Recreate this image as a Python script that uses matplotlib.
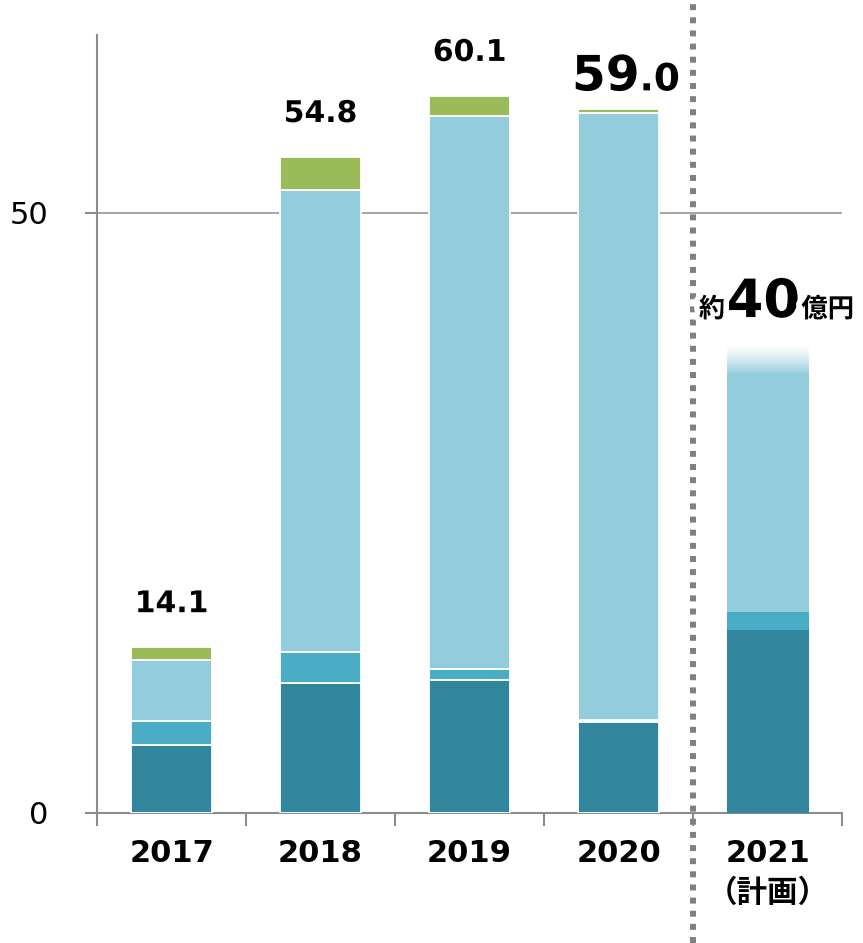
import numpy as np
import matplotlib
matplotlib.use("Agg")
import matplotlib.pyplot as plt
import matplotlib.patheffects as pe
import matplotlib.transforms as mtransforms
from matplotlib.offsetbox import TextArea, HPacker, AnnotationBbox

plt.rcParams["font.family"] = ["DejaVu Sans", "Noto Sans CJK JP"]

# data
years = ["2017", "2018", "2019", "2020", "2021\n（計画）"]
dark = [5.67, 10.83, 11.08, 7.58, 15.25]
medium = [2.0, 2.58, 0.92, 0.17, 1.5]
light = [5.08, 38.5, 46.08, 50.58, 22.25]
green = [1.08, 2.75, 1.67, 0.33, 0.0]
totals = ["14.1", "54.8", "60.1", "59.0"]
plan_label = ["約", "40", "億円"]
fade_len = 2.5  # faded top of plan bar

c_dark = "#31859C"
c_med = "#4BACC6"
c_light = "#93CDDD"
c_green = "#9BBB59"

fig = plt.figure(figsize=(8.63, 9.43), dpi=100)
ax = fig.add_axes([0.1124, 0.1379, 0.8633, 0.825])

x = np.arange(len(years))
w = 0.55
n = len(totals)

# actual years
b1 = np.array(dark[:n])
b2 = b1 + np.array(medium[:n])
b3 = b2 + np.array(light[:n])
ax.bar(x[:n], dark[:n], w, color=c_dark, edgecolor="white", linewidth=1.3, zorder=3)
ax.bar(x[:n], medium[:n], w, bottom=b1, color=c_med, edgecolor="white", linewidth=1.3, zorder=3)
ax.bar(x[:n], light[:n], w, bottom=b2, color=c_light, edgecolor="white", linewidth=1.3, zorder=3)
ax.bar(x[:n], green[:n], w, bottom=b3, color=c_green, edgecolor="white", linewidth=1.3, zorder=3)
tops = b3 + np.array(green[:n])

# plan year (gradient-ish)
i = n
ax.bar(x[i], dark[i], w, color=c_dark, linewidth=0, zorder=3)
ax.bar(x[i], medium[i], w, bottom=dark[i], color=c_med, linewidth=0, zorder=3)
base = dark[i] + medium[i]
ax.bar(x[i], light[i] - fade_len, w, bottom=base, color=c_light, linewidth=0, zorder=3)
fade_bot = base + light[i] - fade_len
plan_top = base + light[i]
rgba = np.zeros((50, 1, 4))
rgba[:, 0, :3] = matplotlib.colors.to_rgb(c_light)
rgba[:, 0, 3] = np.linspace(1, 0, 50) ** 1.3
ax.imshow(rgba, extent=[x[i] - w / 2, x[i] + w / 2, fade_bot, plan_top],
          origin="lower", aspect="auto", zorder=3, interpolation="bilinear")

ax.set_xlim(-0.5, len(years) - 0.5)
ax.set_ylim(0, 64.8)

glow = [pe.withStroke(linewidth=8, foreground="white")]

# totals
for k in range(n):
    if k == n - 1:
        big = TextArea(totals[k][:2], textprops=dict(fontsize=35, fontweight="bold", path_effects=glow))
        small = TextArea(totals[k][2:], textprops=dict(fontsize=27, fontweight="bold", path_effects=glow))
        box = HPacker(children=[big, small], align="baseline", pad=0, sep=0)
        ab = AnnotationBbox(box, (x[k] + 0.05, tops[k]), xybox=(0, 6), boxcoords="offset points",
                            box_alignment=(0.5, 0), frameon=False, zorder=6)
        ax.add_artist(ab)
    else:
        ax.annotate(totals[k], (x[k], tops[k]), xytext=(0, 25), textcoords="offset points",
                    ha="center", va="baseline", fontsize=21.5, fontweight="bold",
                    path_effects=glow, zorder=6)

t1 = TextArea(plan_label[0], textprops=dict(fontsize=19, fontweight="bold", path_effects=glow))
t2 = TextArea(plan_label[1], textprops=dict(fontsize=38, fontweight="bold", path_effects=glow))
t3 = TextArea(plan_label[2], textprops=dict(fontsize=19, fontweight="bold", path_effects=glow))
box = HPacker(children=[t1, t2, t3], align="baseline", pad=0, sep=1)
ab = AnnotationBbox(box, (x[i] + 0.06, plan_top), xybox=(0, 12), boxcoords="offset points",
                    box_alignment=(0.5, 0), frameon=False, zorder=6)
ax.add_artist(ab)

# axes styling
for s in ["top", "right"]:
    ax.spines[s].set_visible(False)
for s in ["left", "bottom"]:
    ax.spines[s].set_color("#8c8c8c")
    ax.spines[s].set_linewidth(1.5)

ax.set_yticks([0, 50])
ax.set_yticklabels(["0", "50"])
ax.tick_params(axis="y", length=9, width=1.5, color="#8c8c8c", pad=26, labelsize=22)
ax.axhline(50, color="#8c8c8c", linewidth=1.1, zorder=1)

ax.set_xticks(x)
ax.set_xticklabels(years, fontweight="bold", fontsize=22, linespacing=1.45)
ax.set_xticks(np.arange(-0.5, len(years)), minor=True)
ax.tick_params(axis="x", which="major", length=0, pad=19)
ax.tick_params(axis="x", which="minor", length=9, width=1.5, color="#8c8c8c")

# dotted separator between actual and plan
trans = mtransforms.blended_transform_factory(ax.transData, fig.transFigure)
ax.plot([3.5, 3.5], [0, 1], transform=trans, color="#808080", linewidth=4.3,
        linestyle=(0, (1, 1.2)), clip_on=False, zorder=4)

fig.savefig("out.png", dpi=100)
